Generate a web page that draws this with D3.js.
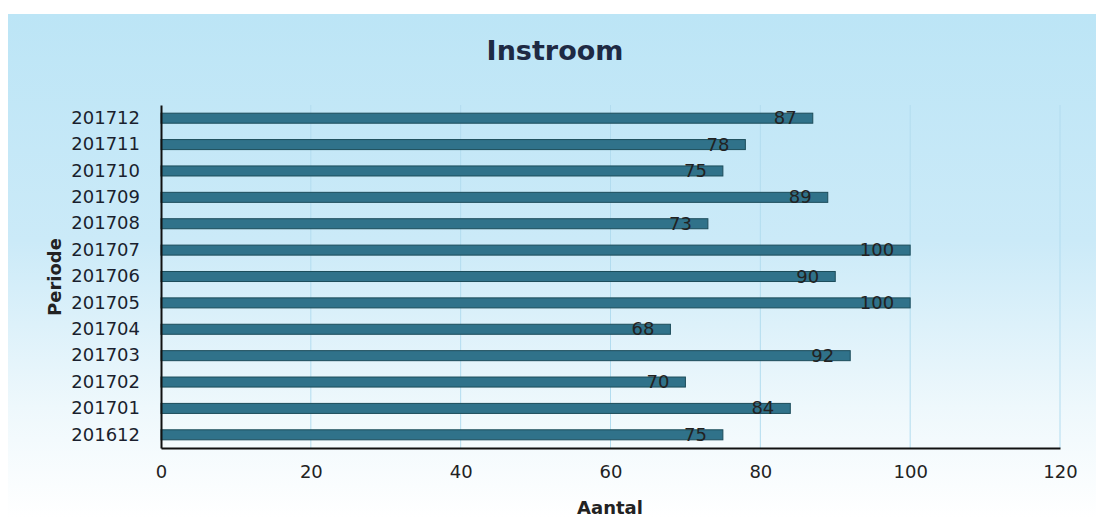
<!DOCTYPE html>
<html><head><meta charset="utf-8">
<script src="https://cdn.jsdelivr.net/npm/d3@7"></script>
<style>body{margin:0;background:#fff}svg{display:block}</style>
</head><body>
<svg id="c" width="1096" height="518"></svg>
<script>
const categories = ["201712","201711","201710","201709","201708","201707","201706","201705","201704","201703","201702","201701","201612"];
const values = [87,78,75,89,73,100,90,100,68,92,70,84,75];
const xTicks = [0,20,40,60,80,100,120];
const title = "Instroom";
const xTitle = "Aantal";
const yTitle = "Periode";

const svg = d3.select("#c");
const W = 1096, H = 518;
const defs = svg.append("defs");
const g1 = defs.append("linearGradient").attr("id","bg").attr("x1",0).attr("y1",0).attr("x2",0).attr("y2",1);
g1.append("stop").attr("offset","0%").attr("stop-color","#bce5f6");
g1.append("stop").attr("offset","45%").attr("stop-color","#cbeaf8");
g1.append("stop").attr("offset","78%").attr("stop-color","#eef8fc");
g1.append("stop").attr("offset","100%").attr("stop-color","#ffffff");
svg.append("rect").attr("x",0).attr("y",0).attr("width",W).attr("height",H).attr("fill","#fff");
svg.append("rect").attr("x",8).attr("y",14).attr("width",W-8).attr("height",H-14).attr("fill","url(#bg)");

const m = {left:161, right:1060, top:105, bottom:448};
const x = d3.scaleLinear().domain([0,120]).range([m.left,m.right]);
const y = d3.scaleBand().domain(categories).range([m.top,m.bottom]).paddingInner(0.62).paddingOuter(0.31);

// gridlines
svg.append("g").selectAll("line").data(xTicks.filter(t=>t>0)).join("line")
  .attr("x1",d=>x(d)).attr("x2",d=>x(d)).attr("y1",m.top).attr("y2",m.bottom)
  .attr("stroke","#b2dcef").attr("stroke-width",1);

// bars
svg.append("g").selectAll("rect").data(values).join("rect")
  .attr("x",x(0)).attr("y",(d,i)=>y(categories[i]))
  .attr("width",d=>x(d)-x(0)).attr("height",y.bandwidth())
  .attr("fill","#30728a").attr("stroke","#1c4c5a").attr("stroke-width",1);

// value labels
svg.append("g").selectAll("text").data(values).join("text")
  .attr("x",d=>x(d)-16).attr("y",(d,i)=>y(categories[i])+y.bandwidth()/2+1)
  .attr("text-anchor","end").attr("dominant-baseline","middle")
  .attr("font-family","DejaVu Sans, sans-serif").attr("font-size",18).attr("fill","#222")
  .text(d=>d);

// axes
const xa = svg.append("g").attr("transform",`translate(0,${m.bottom})`)
  .call(d3.axisBottom(x).tickValues(xTicks).tickSize(0).tickPadding(17));
xa.select(".domain").attr("stroke","#111").attr("stroke-width",2);
xa.selectAll("text").attr("font-family","DejaVu Sans, sans-serif").attr("font-size",18).attr("fill","#222");

const ya = svg.append("g").attr("transform",`translate(${m.left},0)`)
  .call(d3.axisLeft(y).tickSize(0).tickPadding(21));
ya.select(".domain").attr("stroke","#111").attr("stroke-width",2);
ya.selectAll("text").attr("font-family","DejaVu Sans, sans-serif").attr("font-size",18).attr("fill","#1a1f2e");

// titles
svg.append("text").attr("x",555).attr("y",60).attr("text-anchor","middle")
  .attr("font-family","DejaVu Sans, sans-serif").attr("font-weight","bold").attr("font-size",27)
  .attr("fill","#1e2a44").text(title);
svg.append("text").attr("x",610).attr("y",514).attr("text-anchor","middle")
  .attr("font-family","DejaVu Sans, sans-serif").attr("font-weight","bold").attr("font-size",18)
  .attr("fill","#222").text(xTitle);
svg.append("text").attr("transform","translate(61,277) rotate(-90)").attr("text-anchor","middle")
  .attr("font-family","DejaVu Sans, sans-serif").attr("font-weight","bold").attr("font-size",18)
  .attr("fill","#222").text(yTitle);
</script>
</body></html>
